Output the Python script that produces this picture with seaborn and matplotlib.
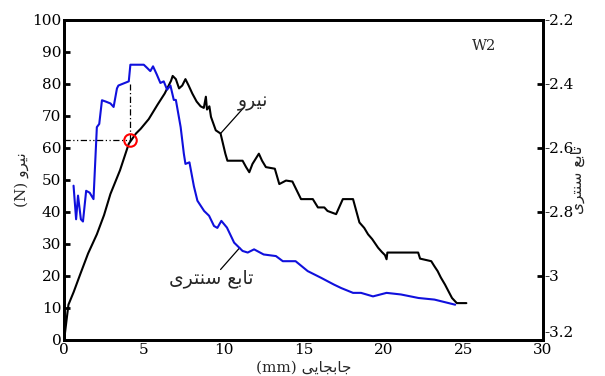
import numpy as np
import pandas as pd
import matplotlib
matplotlib.use("Agg")
import matplotlib.pyplot as plt
import seaborn as sns

# Force (left axis, N) vs displacement (mm)
force_x = [0, 0.27, 0.6, 1.0, 1.5, 2.05, 2.5, 2.9, 3.5, 4.05, 4.5, 4.8, 5.3, 5.85, 6.3, 6.7, 6.8,
           7.0, 7.2, 7.4, 7.6, 7.8, 8.03, 8.3, 8.55, 8.75, 8.88, 8.95, 9.1, 9.2, 9.5, 9.8, 10.1,
           10.23, 11.18, 11.4, 11.6, 11.8, 12.2, 12.4, 12.64, 13.2, 13.48, 13.9, 14.3, 14.84, 15.58,
           15.9, 16.3, 16.5, 17.04, 17.46, 18.1, 18.5, 18.8, 19.04, 19.3, 19.67, 19.9, 20.1, 20.2,
           20.25, 22.18, 22.3, 23.0, 23.2, 23.4, 23.6, 23.86, 24.1, 24.3, 24.6, 25.2]
force_y = [0, 11, 15, 20.4, 27, 33, 39, 45.6, 53, 61.3, 64.5, 66, 69, 73.5, 77, 81, 82.5,
           81.5, 78.6, 79.5, 81.5, 79.5, 77, 74.5, 73, 72.5, 76, 72, 73, 69.7, 65.5, 64.5, 58.2,
           56, 56, 54, 52.4, 55, 58.2, 56, 54, 53.5, 48.7, 49.8, 49.5, 44, 44,
           41.4, 41.4, 40.3, 39.3, 44, 44, 36.7, 35, 33, 31.5, 28.8, 27.5, 26.5, 25.2,
           27.3, 27.3, 25.4, 24.6, 23, 21.5, 19.5, 17.3, 15, 13.1, 11.5, 11.5]

# Centroid function (right axis)
cent_x = [0.59, 0.75, 0.87, 1.05, 1.18, 1.38, 1.6, 1.84, 2.05, 2.2, 2.37, 2.6, 2.9, 3.1, 3.31, 3.4,
          3.8, 4.05, 4.15, 4.99, 5.2, 5.4, 5.57, 5.8, 6.03, 6.24, 6.45, 6.66, 6.87, 7.0, 7.3, 7.5,
          7.6, 7.85, 8.13, 8.35, 8.77, 9.08, 9.39, 9.6, 9.85, 10.2, 10.65, 11.18, 11.5, 11.9, 12.5,
          13.27, 13.7, 14.5, 15.26, 16.1, 16.9, 17.36, 18.1, 18.6, 19.35, 20.2, 21.1, 22.2, 23.2, 24.5]
cent_y = [-2.718, -2.823, -2.749, -2.823, -2.830, -2.734, -2.740, -2.760, -2.535, -2.525, -2.451,
          -2.455, -2.461, -2.472, -2.414, -2.405, -2.397, -2.392, -2.340, -2.340, -2.350, -2.360,
          -2.345, -2.370, -2.397, -2.392, -2.418, -2.405, -2.450, -2.450, -2.535, -2.618, -2.650,
          -2.645, -2.720, -2.765, -2.797, -2.812, -2.844, -2.850, -2.828, -2.849, -2.896, -2.922,
          -2.927, -2.917, -2.933, -2.938, -2.954, -2.954, -2.985, -3.006, -3.027, -3.038, -3.053,
          -3.053, -3.064, -3.053, -3.058, -3.069, -3.074, -3.090]

x_ticks = [0, 5, 10, 15, 20, 25, 30]
y_ticks = [0, 10, 20, 30, 40, 50, 60, 70, 80, 90, 100]
y2_ticks = [-3.2, -3.0, -2.8, -2.6, -2.4, -2.2]

mark_x, mark_y, mark_top = 4.1, 62.5, 80

# Persian strings in presentation forms (visual order)
lbl_force = "\uFEED\uFEAE\uFBFF\uFEE7"                                   # نیرو
lbl_cent = "\uFBFC\uFEAE\uFE98\uFEE8\uFEB3 \uFECA\uFE91\uFE8E\uFE97"     # تابع سنتری
lbl_disp = "\uFBFD\uFBFE\uFE8E\uFEA0\uFE91\uFE8E\uFE9F"                 # جابجایی

sns.set_style("white")
fam = ["DejaVu Serif", "DejaVu Sans"]
plt.rcParams["font.family"] = fam
plt.rcParams["font.size"] = 10.5

fig = plt.figure(figsize=(6.05, 3.76), dpi=100)
ax = fig.add_axes([0.106, 0.096, 0.7915, 0.851])
ax2 = ax.twinx()

df_f = pd.DataFrame({"x": force_x, "y": force_y})
df_c = pd.DataFrame({"x": cent_x, "y": cent_y})
sns.lineplot(data=df_f, x="x", y="y", ax=ax, color="black", lw=1.5, sort=False, estimator=None)
sns.lineplot(data=df_c, x="x", y="y", ax=ax2, color="#1010dd", lw=1.5, sort=False, estimator=None)

# guide lines and marker
ax.plot([0, mark_x], [mark_y, mark_y], color="black", lw=0.9, dashes=(5, 2, 1, 2, 1, 2))
ax.plot([mark_x, mark_x], [mark_y, mark_top], color="black", lw=0.9, dashes=(5, 2, 1, 2))
ax.plot([mark_x], [mark_y], marker="o", ms=9, mfc="none", mec="red", mew=1.5)

ax.set_xlim(0, 30)
ax.set_ylim(0, 100)
ax2.set_ylim(-3.2, -2.2)
ax.set_xticks(x_ticks)
ax.set_yticks(y_ticks)
ax2.set_yticks(y2_ticks)
ax2.set_yticklabels(["%g" % v for v in y2_ticks])

for a in (ax, ax2):
    for s in a.spines.values():
        s.set_linewidth(2)
        s.set_color("black")
    a.tick_params(direction="in", length=4, width=2, pad=2, labelsize=11, colors="black")
ax.tick_params(top=False, right=False)
ax2.tick_params(pad=1)
# lift the bottom right label (-3.2) slightly above the corner, as in the reference
ax2.get_yticklabels()[0].set_va("bottom")

ax.set_xlabel("(mm) " + lbl_disp, fontsize=11, labelpad=3)
ax.set_ylabel("(N) " + lbl_force, fontsize=11, labelpad=2)
ax2.set_ylabel(lbl_cent, fontsize=11, rotation=90, labelpad=-2)

# annotations
ax.text(26.3, 92, "W2", fontsize=10.5, ha="center", va="center")
ax.text(11.85, 74.3, lbl_force, fontsize=13.5, ha="center", va="center")
ax.plot([9.8, 11.2], [64.5, 72.3], color="black", lw=0.9)
ax.text(9.2, 19, lbl_cent, fontsize=13.5, ha="center", va="center")
ax.plot([11.0, 9.8], [28.8, 22.0], color="black", lw=0.9)

fig.savefig("out.png", dpi=100)
